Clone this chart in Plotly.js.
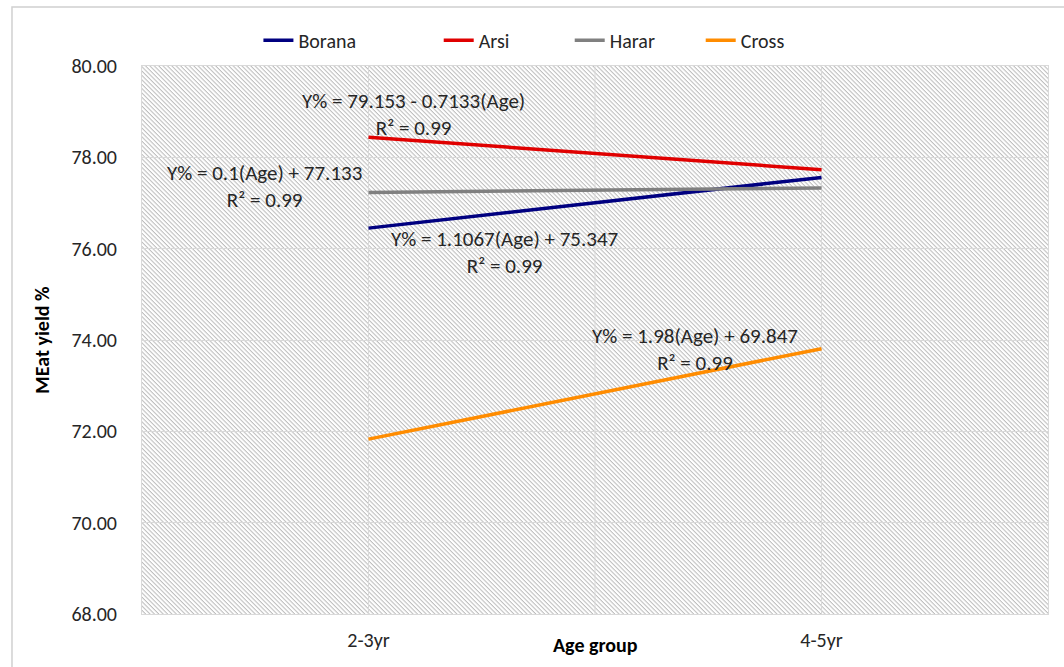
<!DOCTYPE html>
<html><head><meta charset="utf-8">
<script src="https://cdn.plot.ly/plotly-3.0.1.min.js"></script>
<style>html,body{margin:0;padding:0;background:#fff}#chart{width:1064px;height:667px}</style>
</head><body><div id="chart"></div>
<script>
// ---- data ----
const ageGroups = ['2-3yr', '4-5yr'];
const seriesNames = ['Borana', 'Arsi', 'Harar', 'Cross'];
const borana = [76.45, 77.56];
const arsi = [78.44, 77.73];
const harar = [77.23, 77.33];
const cross = [71.83, 73.81];
const yTickVals = [68, 70, 72, 74, 76, 78, 80];
const yTickText = ['68.00', '70.00', '72.00', '74.00', '76.00', '78.00', '80.00'];
const equationTexts = [
  'Y% = 79.153 - 0.7133(Age)<br>R² = 0.99',
  'Y% = 0.1(Age) + 77.133<br>R² = 0.99',
  'Y% = 1.1067(Age) + 75.347<br>R² = 0.99',
  'Y% = 1.98(Age) + 69.847<br>R² = 0.99'
];

// ---- styling ----
const FONT = 'Carlito, Lato, "Open Sans", sans-serif';
const colors = ['#000080', '#E00000', '#808080', '#FF8C00'];
const values = [borana, arsi, harar, cross];
const legendIds = ['legend', 'legend2', 'legend2', 'legend2'];

const traces = seriesNames.map((n, i) => ({
  type: 'scatter', mode: 'lines', name: n,
  x: ageGroups, y: values[i],
  line: {color: colors[i], width: 3.5},
  legend: legendIds[i],
  hoverinfo: 'skip'
}));

const hatchSvg = '<svg xmlns="http://www.w3.org/2000/svg" width="906" height="548">' +
  '<defs><pattern id="h" patternUnits="userSpaceOnUse" width="10" height="3.1" patternTransform="rotate(45)">' +
  '<rect x="0" y="0" width="10" height="1.05" fill="#bdbdbd"/></pattern></defs>' +
  '<rect width="906" height="548" fill="#ffffff"/><rect width="906" height="548" fill="url(#h)"/></svg>';

// annotation anchor positions (x in category index units, y in axis units)
const annPos = [[0.10, 78.94], [-0.23, 77.36], [0.30, 75.92], [0.72, 73.79]];
const annotations = equationTexts.map((t, i) => ({
  text: t, xref: 'x', yref: 'y', x: annPos[i][0], y: annPos[i][1],
  showarrow: false, xanchor: 'center', yanchor: 'middle', align: 'center',
  font: {family: FONT, size: 21, color: '#262626'}
}));
annotations.push({
  text: '<b>Age group</b>', xref: 'paper', yref: 'paper', x: 0.5, y: -0.057,
  showarrow: false, xanchor: 'center', yanchor: 'middle',
  font: {family: FONT, size: 20, color: '#000'}
});

const legendBase = {orientation: 'h', yanchor: 'middle', y: 1.047, xanchor: 'left',
  font: {family: FONT, size: 20, color: '#262626'}, bgcolor: 'rgba(0,0,0,0)',
  entrywidthmode: 'pixels'};

const layout = {
  width: 1064, height: 667,
  margin: {l: 142, r: 16, t: 66, b: 53},
  paper_bgcolor: '#ffffff',
  plot_bgcolor: 'rgba(0,0,0,0)',
  font: {family: FONT, size: 20, color: '#262626'},
  showlegend: true,
  legend: Object.assign({}, legendBase, {x: 0.1285}),
  legend2: Object.assign({}, legendBase, {x: 0.3275, entrywidth: 86}),
  xaxis: {
    type: 'category', range: [-0.5, 1.5],
    showgrid: true, gridcolor: '#d9d9d9', gridwidth: 1,
    showline: true, linecolor: '#d9d9d9', linewidth: 1, mirror: true,
    ticks: '', ticklabelstandoff: 8, zeroline: false,
    tickfont: {family: FONT, size: 20, color: '#262626'}
  },
  yaxis: {
    range: [68, 80], tickvals: yTickVals, ticktext: yTickText,
    showgrid: true, gridcolor: '#d9d9d9', gridwidth: 1,
    showline: true, linecolor: '#d9d9d9', linewidth: 1, mirror: true,
    ticks: '', ticklabelstandoff: 20, zeroline: false,
    tickfont: {family: FONT, size: 20, color: '#262626'},
    title: {text: '<b>MEat yield %</b>', standoff: 16, font: {family: FONT, size: 20, color: '#000'}}
  },
  images: [{
    source: 'data:image/svg+xml;charset=utf-8,' + encodeURIComponent(hatchSvg),
    xref: 'paper', yref: 'paper', x: 0, y: 1, sizex: 1, sizey: 1,
    xanchor: 'left', yanchor: 'top', sizing: 'stretch', layer: 'below'
  }],
  shapes: [
    {type: 'line', xref: 'x', yref: 'paper', x0: 0.5, x1: 0.5, y0: 0, y1: 1,
     line: {color: '#d9d9d9', width: 1}, layer: 'below'},
    {type: 'rect', xref: 'paper', yref: 'paper', x0: -0.1435, x1: 1.2, y0: -0.3, y1: 1.1077,
     line: {color: '#d0d0d0', width: 1.5}, fillcolor: 'rgba(0,0,0,0)', layer: 'below'}
  ],
  annotations: annotations
};

Plotly.newPlot('chart', traces, layout, {displayModeBar: false, staticPlot: true});
</script></body></html>
